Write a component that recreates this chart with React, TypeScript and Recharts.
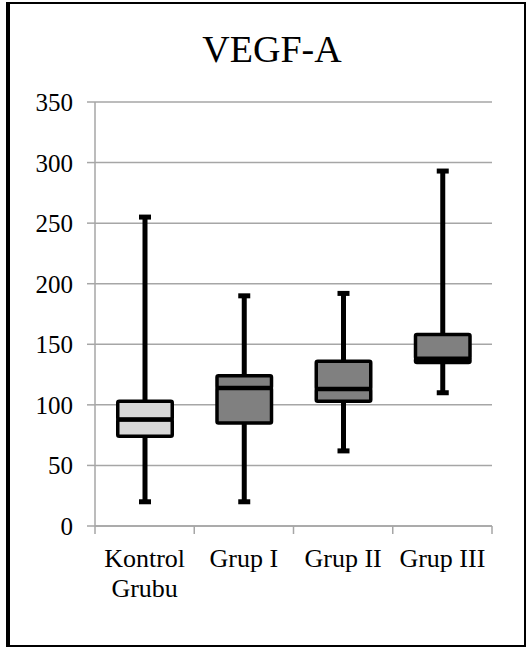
import React from "react";
import { ComposedChart, Bar, XAxis, YAxis, CartesianGrid } from "recharts";

const categories = ["Kontrol\nGrubu", "Grup I", "Grup II", "Grup III"];
const mins = [20, 20, 62, 110];
const q1s = [74, 85, 103, 135];
const medians = [88, 114, 113, 138];
const q3s = [103, 124, 136, 158];
const maxs = [255, 190, 192, 293];
const boxFills = ["#d9d9d9", "#808080", "#808080", "#808080"];
const yTicks = [0, 50, 100, 150, 200, 250, 300, 350];
const title = "VEGF-A";

const data = categories.map((name, i) => ({
  name,
  base: mins[i],
  lowW: q1s[i] - mins[i],
  lowBox: medians[i] - q1s[i],
  highBox: q3s[i] - medians[i],
  highW: maxs[i] - q3s[i],
}));

const W = 528;
const H = 648;
const MARGIN = { top: 102, right: 36, bottom: 42, left: 0 };
const Y_AXIS_W = 95;
const X_AXIS_H = 80;
const FONT = "'Liberation Serif', 'Times New Roman', serif";
const GRAY = "#a6a6a6";
const BOX_STROKE = 3.5;

const Empty = () => <g />;

const LowWhisker = (p: any) => {
  const { x, y, width, height } = p;
  const cx = x + width / 2;
  return (
    <g>
      <line x1={cx} x2={cx} y1={y} y2={y + height} stroke="#000" strokeWidth={5} />
      <rect x={cx - 6} y={y + height - 2.5} width={12} height={5} fill="#000" />
    </g>
  );
};

const HighWhisker = (p: any) => {
  const { x, y, width, height } = p;
  const cx = x + width / 2;
  return (
    <g>
      <line x1={cx} x2={cx} y1={y} y2={y + height} stroke="#000" strokeWidth={5} />
      <rect x={cx - 6} y={y - 2.5} width={12} height={5} fill="#000" />
    </g>
  );
};

const LowBox = (p: any) => {
  const { x, y, width, height, index } = p;
  return (
    <rect
      x={x + BOX_STROKE / 2}
      y={y}
      width={width - BOX_STROKE}
      height={height}
      rx={1.5}
      fill={boxFills[index]}
      stroke="#000"
      strokeWidth={BOX_STROKE}
    />
  );
};

const HighBox = (p: any) => {
  const { x, y, width, height, index } = p;
  return (
    <g>
      <rect
        x={x + BOX_STROKE / 2}
        y={y}
        width={width - BOX_STROKE}
        height={height}
        rx={1.5}
        fill={boxFills[index]}
        stroke="#000"
        strokeWidth={BOX_STROKE}
      />
      <line
        x1={x + BOX_STROKE / 2}
        x2={x + width - BOX_STROKE / 2}
        y1={y + height}
        y2={y + height}
        stroke="#000"
        strokeWidth={4.5}
      />
    </g>
  );
};

const CatTick = (props: any) => {
  const { x, y, payload, index, visibleTicksCount } = props;
  const fallback = (W - MARGIN.right - MARGIN.left - Y_AXIS_W) / categories.length / 2;
  const half = payload && payload.offset ? payload.offset : fallback;
  const lines = String(payload.value).split("\n");
  return (
    <g>
      <line x1={x - half} x2={x - half} y1={y} y2={y + 8} stroke={GRAY} strokeWidth={1.5} />
      {index === visibleTicksCount - 1 && (
        <line x1={x + half} x2={x + half} y1={y} y2={y + 8} stroke={GRAY} strokeWidth={1.5} />
      )}
      <text x={x} y={y} textAnchor="middle" style={{ fontSize: 26, fontFamily: FONT, fill: "#000" }}>
        {lines.map((l, i) => (
          <tspan key={i} x={x} dy={i === 0 ? 41 : 30}>
            {l}
          </tspan>
        ))}
      </text>
    </g>
  );
};

const ValTick = (props: any) => {
  const { x, y, payload } = props;
  return (
    <text
      x={x}
      y={y}
      dy={9}
      textAnchor="end"
      style={{ fontSize: 25, fontFamily: FONT, fill: "#000" }}
    >
      {payload.value}
    </text>
  );
};

export default function App() {
  return (
    <div style={{ position: "absolute", left: 0, top: 0, width: W, height: H, background: "#fff" }}>
      <div
        style={{
          position: "absolute",
          left: 6,
          top: 2,
          width: 520,
          height: 645,
          boxSizing: "border-box",
          borderLeft: "4px solid #000",
          borderTop: "2px solid #000",
          borderRight: "2px solid #000",
          borderBottom: "2px solid #000",
        }}
      />
      <svg style={{ position: "absolute", left: 0, top: 0 }} width={W} height={100}>
        <text x={272} y={62} textAnchor="middle" style={{ fontSize: 38, fontFamily: FONT, fill: "#000" }}>
          {title}
        </text>
      </svg>
      <div style={{ position: "absolute", left: 0, top: 0 }}>
        <ComposedChart width={W} height={H} data={data} margin={MARGIN}>
          <CartesianGrid vertical={false} stroke={GRAY} strokeWidth={1.5} />
          <XAxis
            dataKey="name"
            height={X_AXIS_H}
            interval={0}
            tickLine={false}
            tickSize={0}
            tickMargin={0}
            axisLine={{ stroke: GRAY, strokeWidth: 1.5 }}
            tick={<CatTick />}
          />
          <YAxis
            width={Y_AXIS_W}
            domain={[0, 350]}
            ticks={yTicks}
            interval={0}
            tickSize={8}
            tickMargin={14}
            axisLine={{ stroke: GRAY, strokeWidth: 1.5 }}
            tickLine={{ stroke: GRAY, strokeWidth: 1.5 }}
            tick={<ValTick />}
          />
          <Bar dataKey="base" stackId="a" barSize={58} shape={<Empty />} isAnimationActive={false} />
          <Bar dataKey="lowW" stackId="a" barSize={58} shape={<LowWhisker />} isAnimationActive={false} />
          <Bar dataKey="lowBox" stackId="a" barSize={58} shape={<LowBox />} isAnimationActive={false} />
          <Bar dataKey="highBox" stackId="a" barSize={58} shape={<HighBox />} isAnimationActive={false} />
          <Bar dataKey="highW" stackId="a" barSize={58} shape={<HighWhisker />} isAnimationActive={false} />
        </ComposedChart>
      </div>
    </div>
  );
}
